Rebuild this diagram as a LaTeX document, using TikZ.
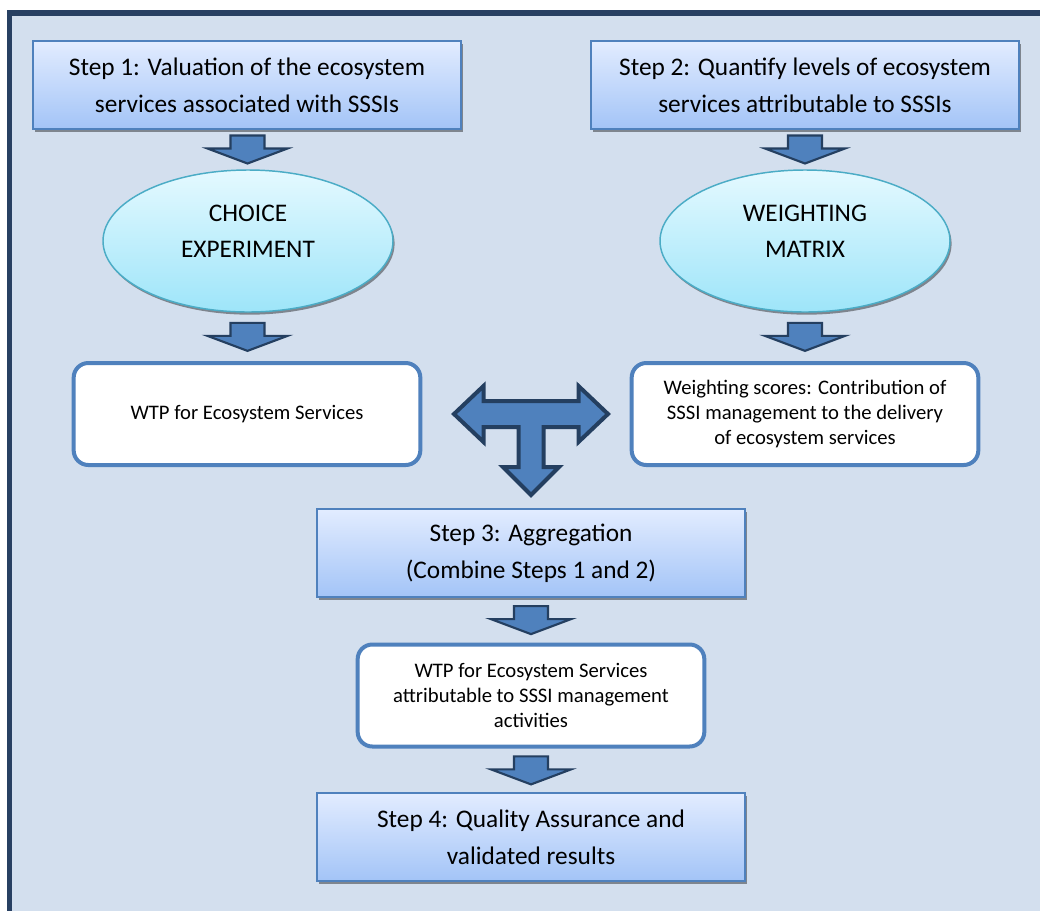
\documentclass[tikz,border=0pt]{standalone}
\usepackage{fontspec}
\setmainfont{Carlito}
\usepackage{tikz}
\usetikzlibrary{calc,shapes.geometric,shadows}
\usepackage{xcolor}
\definecolor{framenavy}{RGB}{40,64,98}
\definecolor{panelbg}{RGB}{211,223,238}
\definecolor{steptop}{RGB}{226,236,255}
\definecolor{stepbot}{RGB}{163,196,247}
\definecolor{accentblue}{RGB}{79,129,189}
\definecolor{arrowedge}{RGB}{36,63,96}
\definecolor{ovaltop}{RGB}{228,249,255}
\definecolor{ovalbot}{RGB}{158,229,249}
\definecolor{ovaledge}{RGB}{75,172,198}
\newcommand{\blockdown}[2]{%
  \draw[blockarrow] ($(#1.south)!0.5!(#2.north)$) ++(-17,-14) -- ++(34,0)
    -- ++(0,13) -- ++(23,0) -- ++(-40,15) -- ++(-40,-15) -- ++(23,0) -- cycle;}

\begin{document}
\begin{tikzpicture}[x=0.75pt,y=-0.75pt,
  stepbox/.style={rectangle,draw=accentblue,line width=1.1pt,
    top color=steptop,bottom color=stepbot,
    minimum width=321pt,minimum height=66pt,align=center,
    font=\fontsize{19}{27.5}\selectfont,
    drop shadow={shadow xshift=1.6pt,shadow yshift=-2.4pt,fill=black,opacity=0.4}},
  oval/.style={ellipse,draw=ovaledge,line width=1.1pt,
    top color=ovaltop,bottom color=ovalbot,
    minimum width=217.5pt,minimum height=106.5pt,align=center,
    font=\fontsize{19}{27.5}\selectfont,text depth=14.8pt,
    drop shadow={shadow xshift=1.2pt,shadow yshift=-2pt,fill=black,opacity=0.4}},
  roundbox/.style={rectangle,rounded corners=11pt,draw=accentblue,line width=3pt,
    fill=white,minimum width=260pt,minimum height=76.5pt,align=center,
    font=\fontsize{15.5}{18.75}\selectfont},
  blockarrow/.style={fill=accentblue,draw=arrowedge,line width=1.6pt,line join=miter}]
  \useasboundingbox (0,0) rectangle (1040,911);
  \fill[panelbg] (9.5,13) rectangle (1060,930);
  \draw[framenavy,line width=3.8pt] (1060,13) -- (9.5,13) -- (9.5,930);

  \node[stepbox] (step1) at (247,85) {Step 1: Valuation of the ecosystem\\services associated with SSSIs};
  \node[stepbox] (step2) at (805,85) {Step 2: Quantify levels of ecosystem\\services attributable to SSSIs};
  \node[oval] (choice) at (248,241) {CHOICE\\EXPERIMENT};
  \node[oval] (weight) at (805,241) {WEIGHTING\\MATRIX};
  \node[roundbox] (wtp) at (247,414) {WTP for Ecosystem Services};
  \node[roundbox] (scores) at (805,414) {Weighting scores: Contribution of\\SSSI management to the delivery\\of ecosystem services};
  \node[stepbox] (step3) at (531,553) {Step 3: Aggregation\\(Combine Steps 1 and 2)};
  \node[roundbox] (wtpsssi) at (531,695.5) {WTP for Ecosystem Services\\attributable to SSSI management\\activities};
  \node[stepbox] (step4) at (531,837) {Step 4: Quality Assurance and\\validated results};

  \blockdown{step1}{choice}
  \blockdown{step2}{weight}
  \blockdown{choice}{wtp}
  \blockdown{weight}{scores}
  \blockdown{step3}{wtpsssi}
  \blockdown{wtpsssi}{step4}

  \coordinate (tee) at (step3.north |- wtp.east);
  \draw[blockarrow,line width=3pt] (tee) ++(-77,0) -- ++(29.5,-28) -- ++(0,15)
    -- ++(95,0) -- ++(0,-15) -- ++(29.5,28) -- ++(-29.5,28) -- ++(0,-15)
    -- ++(-35,0) -- ++(0,40) -- ++(15.5,0) -- ++(-28,28) -- ++(-28,-28)
    -- ++(15.5,0) -- ++(0,-40) -- ++(-35,0) -- ++(0,15) -- cycle;
\end{tikzpicture}
\end{document}
